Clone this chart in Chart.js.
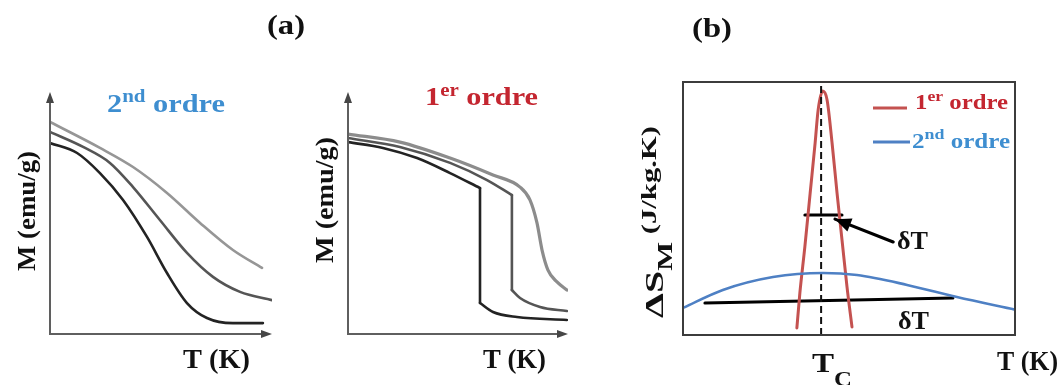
<!DOCTYPE html>
<html><head><meta charset="utf-8">
<script src="https://cdn.jsdelivr.net/npm/chart.js@4"></script>
<style>
html,body{margin:0;padding:0;background:#fff;width:1062px;height:385px;overflow:hidden}
canvas{position:absolute;left:0;top:0}
</style></head><body>
<canvas id="c1" width="1062" height="385"></canvas>
<canvas id="c2" width="1062" height="385"></canvas>
<canvas id="c3" width="1062" height="385"></canvas>
<script>
// ---- Panel (a) left: 2nd order M(T) curves (schematic units 0..10) ----
const a1LightT = [0, 2.25, 3.74, 5.27, 6.76, 8.24, 9.55];
const a1LightM = [8.76, 7.69, 6.90, 5.83, 4.59, 3.47, 2.73];
const a1MidT   = [0, 1.49, 2.70, 3.74, 4.95, 6.17, 7.34, 8.56, 10.0];
const a1MidM   = [8.35, 7.73, 7.07, 6.07, 4.71, 3.35, 2.36, 1.74, 1.40];
const a1DarkT  = [0, 1.22, 2.25, 3.29, 4.37, 5.27, 6.17, 7.07, 8.24, 9.59];
const a1DarkM  = [7.89, 7.48, 6.65, 5.54, 4.01, 2.52, 1.28, 0.66, 0.45, 0.45];

// ---- Panel (a) right: 1st order M(T) curves (upper branch, jump, lower branch) ----
const a2DarkUpT  = [0, 1.59, 3.14, 4.64, 6.00];
const a2DarkUpM  = [7.93, 7.69, 7.27, 6.65, 6.03];
const a2DarkJumpT = [6.00, 6.00];
const a2DarkJumpM = [6.03, 1.28];
const a2DarkLowT = [6.00, 6.59, 7.68, 9.95];
const a2DarkLowM = [1.28, 0.91, 0.70, 0.58];
const a2MidUpT   = [0, 2.36, 4.64, 6.32, 7.45];
const a2MidUpM   = [8.10, 7.73, 7.07, 6.36, 5.74];
const a2MidJumpT = [7.45, 7.45];
const a2MidJumpM = [5.74, 1.82];
const a2MidLowT  = [7.45, 7.82, 8.73, 9.95];
const a2MidLowM  = [1.82, 1.49, 1.12, 0.95];
const a2LightT = [0, 2.36, 4.64, 6.59, 7.82, 8.27, 8.59, 8.82, 9.09, 9.50, 9.95];
const a2LightM = [8.26, 7.93, 7.27, 6.57, 6.07, 5.54, 4.59, 3.47, 2.64, 2.15, 1.82];

// ---- Panel (b): entropy change ----
const bRedT   = [3.43, 3.52, 3.67, 3.83, 3.98, 4.07, 4.21, 4.34, 4.49, 4.64, 4.79, 4.94, 5.09];
const bRedS   = [0.28, 1.66, 3.48, 5.61, 7.59, 8.89, 9.64, 9.29, 7.59, 5.61, 3.75, 1.90, 0.32];
const bBlueT  = [0, 1.20, 2.71, 4.22, 5.24, 6.75, 8.25, 10.0];
const bBlueS  = [1.07, 1.78, 2.29, 2.45, 2.37, 1.98, 1.50, 1.00];
const bTcT    = [4.16, 4.16];
const bTcS    = [0, 10];
const bWideDT = [0.66, 8.13];
const bWideDS = [1.26, 1.46];
const bNarrowDT = [3.67, 4.79];
const bNarrowDS = [4.74, 4.74];
const bArrowT = [4.58, 6.33];
const bArrowS = [4.58, 3.68];

const labelA = '(a)';
const labelB = '(b)';
const axisM = 'M (emu/g)';
const axisT = 'T (K)';

const FAM = '"Liberation Serif","Times New Roman",serif';
const BLUE_TXT = 'rgb(62,142,208)';
const RED_TXT = 'rgb(196,38,48)';
const RED_LINE = 'rgb(196,82,80)';
const BLUE_LINE = 'rgb(78,128,196)';

function pts(xs, ys){ return xs.map((x,i)=>({x:x, y:ys[i]})); }

// rich text: parts = [[text, sizePx, dy]]
function rich(ctx, x, y, parts, o){
  o = o || {};
  let w = 0; const ws = [];
  for (const p of parts){ ctx.font = 'bold ' + p[1] + 'px ' + FAM; const m = ctx.measureText(p[0]).width; ws.push(m); w += m; }
  const sx = o.len ? o.len / w : 1;
  ctx.save();
  ctx.translate(x, y);
  if (o.rot) ctx.rotate(o.rot);
  let start = 0;
  if (o.align === 'center') start = -w * sx / 2;
  ctx.translate(start, 0);
  ctx.scale(sx, 1);
  ctx.fillStyle = o.color || '#111';
  ctx.textBaseline = 'alphabetic';
  ctx.textAlign = 'left';
  let cx = 0;
  parts.forEach((p, i) => {
    ctx.font = 'bold ' + p[1] + 'px ' + FAM;
    ctx.fillText(p[0], cx, p[2] || 0);
    cx += ws[i];
  });
  ctx.restore();
}

function arrowAxes(ctx, ca){
  ctx.save();
  ctx.strokeStyle = 'rgb(95,95,95)';
  ctx.fillStyle = 'rgb(70,70,70)';
  ctx.lineWidth = 2;
  ctx.beginPath();
  ctx.moveTo(ca.left, ca.top + 6);
  ctx.lineTo(ca.left, ca.bottom);
  ctx.lineTo(ca.right - 6, ca.bottom);
  ctx.stroke();
  ctx.beginPath();
  ctx.moveTo(ca.left, ca.top);
  ctx.lineTo(ca.left - 4, ca.top + 11);
  ctx.lineTo(ca.left + 4, ca.top + 11);
  ctx.closePath(); ctx.fill();
  ctx.beginPath();
  ctx.moveTo(ca.right, ca.bottom);
  ctx.lineTo(ca.right - 11, ca.bottom - 4);
  ctx.lineTo(ca.right - 11, ca.bottom + 4);
  ctx.closePath(); ctx.fill();
  ctx.restore();
}

function ds(xs, ys, color, width, extra){
  return Object.assign({data: pts(xs, ys), borderColor: color, borderWidth: width, fill: false,
    pointRadius: 0, cubicInterpolationMode: 'monotone', borderCapStyle: 'round', borderJoinStyle: 'round'}, extra || {});
}
const STRAIGHT = {cubicInterpolationMode: 'default', tension: 0};

function opts(pad){
  return {
    responsive: false, animation: false, devicePixelRatio: 1, events: [],
    layout: {padding: pad},
    plugins: {legend: {display: false}, tooltip: {enabled: false}, title: {display: false}},
    scales: {
      x: {type: 'linear', min: 0, max: 10, display: false},
      y: {type: 'linear', min: 0, max: 10, display: false}
    }
  };
}

// ---------- Chart 1 ----------
new Chart(document.getElementById('c1'), {
  type: 'line',
  data: {datasets: [
    ds(a1LightT, a1LightM, 'rgb(150,150,150)', 2.6),
    ds(a1MidT, a1MidM, 'rgb(85,85,85)', 2.6),
    ds(a1DarkT, a1DarkM, 'rgb(35,35,35)', 2.6)
  ]},
  options: opts({left: 50, right: 1062 - 272, top: 92, bottom: 385 - 334}),
  plugins: [{id: 'deco1', afterDraw(chart){
    const ctx = chart.ctx, ca = chart.chartArea;
    arrowAxes(ctx, ca);
    rich(ctx, 107, 112, [['2', 26, 0], ['nd', 18, -10], [' ordre', 26, 0]], {color: BLUE_TXT, len: 118});
    rich(ctx, 35, 211, [[axisM, 25, 0]], {rot: -Math.PI/2, align: 'center', len: 120});
    rich(ctx, 183, 368, [[axisT, 27, 0]], {len: 67});
    rich(ctx, 286, 34, [[labelA, 27, 0]], {align: 'center', len: 38});
  }}]
});

// ---------- Chart 2 ----------
new Chart(document.getElementById('c2'), {
  type: 'line',
  data: {datasets: [
    ds(a2LightT, a2LightM, 'rgb(140,140,140)', 3.2),
    ds(a2MidUpT, a2MidUpM, 'rgb(85,85,85)', 2.6),
    ds(a2MidJumpT, a2MidJumpM, 'rgb(85,85,85)', 2.6, STRAIGHT),
    ds(a2MidLowT, a2MidLowM, 'rgb(85,85,85)', 2.6),
    ds(a2DarkUpT, a2DarkUpM, 'rgb(35,35,35)', 2.6),
    ds(a2DarkJumpT, a2DarkJumpM, 'rgb(35,35,35)', 2.6, STRAIGHT),
    ds(a2DarkLowT, a2DarkLowM, 'rgb(35,35,35)', 2.6)
  ]},
  options: opts({left: 348, right: 1062 - 568, top: 92, bottom: 385 - 334}),
  plugins: [{id: 'deco2', afterDraw(chart){
    const ctx = chart.ctx, ca = chart.chartArea;
    arrowAxes(ctx, ca);
    rich(ctx, 425, 105, [['1', 26, 0], ['er', 18, -9], [' ordre', 26, 0]], {color: RED_TXT, len: 113});
    rich(ctx, 333, 200, [[axisM, 25, 0]], {rot: -Math.PI/2, align: 'center', len: 126});
    rich(ctx, 483, 368, [[axisT, 27, 0]], {len: 63});
  }}]
});

// ---------- Chart 3 ----------
new Chart(document.getElementById('c3'), {
  type: 'line',
  data: {datasets: [
    ds(bBlueT, bBlueS, BLUE_LINE, 2.6),
    ds(bTcT, bTcS, '#111', 2, Object.assign({borderDash: [7, 4], borderCapStyle: 'butt'}, STRAIGHT)),
    ds(bRedT, bRedS, RED_LINE, 3),
    ds(bWideDT, bWideDS, '#000', 3, STRAIGHT),
    ds(bNarrowDT, bNarrowDS, '#000', 3, STRAIGHT),
    ds(bArrowT, bArrowS, '#000', 3.2, STRAIGHT)
  ]},
  options: opts({left: 683, right: 1062 - 1015, top: 82, bottom: 385 - 335}),
  plugins: [{id: 'deco3', afterDraw(chart){
    const ctx = chart.ctx, ca = chart.chartArea;
    const xs = chart.scales.x, ys = chart.scales.y;
    ctx.save();
    ctx.strokeStyle = 'rgb(60,60,60)';
    ctx.lineWidth = 2;
    ctx.strokeRect(ca.left, ca.top, ca.right - ca.left, ca.bottom - ca.top);
    const tx = xs.getPixelForValue(bArrowT[0]), ty = ys.getPixelForValue(bArrowS[0]);
    const fx = xs.getPixelForValue(bArrowT[1]), fy = ys.getPixelForValue(bArrowS[1]);
    const ang = Math.atan2(ty - fy, tx - fx);
    const L = 16, W = 7;
    ctx.fillStyle = '#000';
    ctx.beginPath();
    ctx.moveTo(tx, ty);
    ctx.lineTo(tx - L*Math.cos(ang) + W*Math.sin(ang), ty - L*Math.sin(ang) - W*Math.cos(ang));
    ctx.lineTo(tx - L*Math.cos(ang) - W*Math.sin(ang), ty - L*Math.sin(ang) + W*Math.cos(ang));
    ctx.closePath(); ctx.fill();
    ctx.lineWidth = 3;
    ctx.strokeStyle = RED_LINE;
    ctx.beginPath(); ctx.moveTo(873, 108); ctx.lineTo(907, 108); ctx.stroke();
    ctx.strokeStyle = BLUE_LINE;
    ctx.beginPath(); ctx.moveTo(873, 142); ctx.lineTo(910, 142); ctx.stroke();
    ctx.restore();
    rich(ctx, 915, 109, [['1', 21, 0], ['er', 15, -8], [' ordre', 21, 0]], {color: RED_TXT, len: 93});
    rich(ctx, 912, 148, [['2', 21, 0], ['nd', 15, -9], [' ordre', 21, 0]], {color: BLUE_TXT, len: 98});
    rich(ctx, 897, 249, [['δT', 25, 0]], {len: 31});
    rich(ctx, 898, 329, [['δT', 25, 0]], {len: 31});
    rich(ctx, 663, 318, [['ΔS', 26, 0], ['M', 20, 9], [' (J/kg.K)', 20, -7]], {rot: -Math.PI/2, len: 192});
    rich(ctx, 812, 372, [['T', 28, 0], ['C', 21, 14]], {len: 40});
    rich(ctx, 997, 370, [[axisT, 27, 0]], {len: 61});
    rich(ctx, 712, 37, [[labelB, 27, 0]], {align: 'center', len: 40});
  }}]
});
</script>
</body></html>
